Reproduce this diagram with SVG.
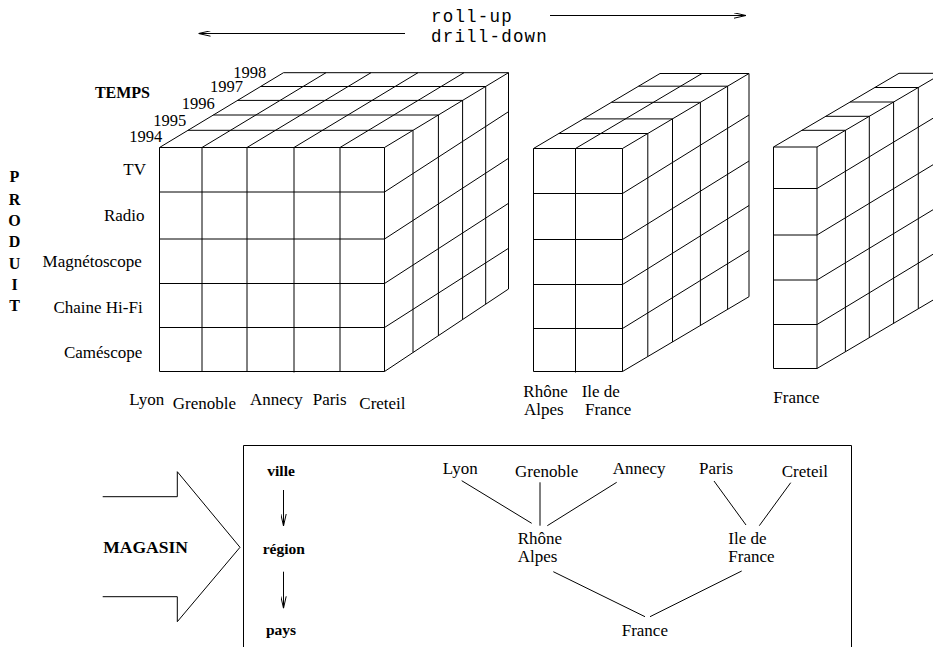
<svg xmlns="http://www.w3.org/2000/svg" width="933" height="647" viewBox="0 0 933 647">
<defs>
<style>
.l{stroke:#000;stroke-width:1;fill:none}
.t{font-family:"Liberation Serif","Times New Roman",serif;font-size:17px;fill:#000}
.b{font-weight:bold}
.m{font-family:"Liberation Mono","Courier New",monospace;font-size:17.5px;letter-spacing:1.2px;fill:#000}
</style>
<marker id="ah" markerUnits="userSpaceOnUse" viewBox="0 0 12 6" refX="12" refY="3" markerWidth="12" markerHeight="6" orient="auto">
<path d="M0,0.3 L12,3 L0,5.7" stroke="#000" stroke-width="1" fill="none"/>
</marker>
</defs>
<rect width="933" height="647" fill="#fff"/>

<g id="cube-ville">
<path class="l" d="M159.5,147.5V371.5 M202,147.5V371.5 M247,147.5V371.5 M294,147.5V372.5 M340,147.5V371.5 M384.5,147.5V371.5
M159.5,147.5H384.5 M159.5,192H384.5 M159.5,239H384.5 M159.5,283.5H384.5 M159.5,327.5H384.5 M159.5,371.5H384.5
M159.5,147.5L283.5,72.7 M202,147.5L326,72.7 M247,147.5L371,72.7 M294,147.5L418,72.7 M340,147.5L464,72.7 M384.5,147.5L508.5,72.7
M188,130.3H413 M213.4,115H438.4 M237.6,100.4H462.6 M260.7,86.5H485.7 M283.5,72.7H508.5
M413,130.3V352.5 M438.4,115V335.6 M462.6,100.4V319.5 M485.7,86.5V304.2 M508.5,72.7V289
M384.5,192L508.5,111.7 M384.5,239L508.5,158.3 M384.5,283.5L508.5,203.3 M384.5,327.5L508.5,248.3 M384.5,371.5L508.5,289"/>
<text class="t" x="129.3" y="405.3">Lyon</text>
<text class="t" x="172.7" y="408.5">Grenoble</text>
<text class="t" x="250" y="405.3">Annecy</text>
<text class="t" x="312.7" y="405.3">Paris</text>
<text class="t" x="359.3" y="408.5">Creteil</text>
</g>

<g id="axis-produit">
<g class="t" text-anchor="end">
<text x="146" y="175">TV</text>
<text x="144.5" y="220.5">Radio</text>
<text x="141.7" y="267">Magnétoscope</text>
<text x="142.7" y="313">Chaine Hi-Fi</text>
<text x="142.3" y="358">Caméscope</text>
</g>
<g class="t b" text-anchor="middle" style="font-size:16px">
<text x="14.5" y="182">P</text>
<text x="14.5" y="204.5">R</text>
<text x="14.5" y="226">O</text>
<text x="14.5" y="247">D</text>
<text x="14.5" y="268.5">U</text>
<text x="14.5" y="290">I</text>
<text x="14.5" y="311">T</text>
</g>
</g>

<g id="axis-temps">
<text class="t b" x="150" y="98" text-anchor="end" style="font-size:16px">TEMPS</text>
<g class="t" style="font-size:16.5px">
<text x="129.3" y="141.7">1994</text>
<text x="153.3" y="126">1995</text>
<text x="181.7" y="109.3">1996</text>
<text x="210" y="92.3">1997</text>
<text x="233.3" y="78.3">1998</text>
</g>
</g>

<g id="cube-region">
<path class="l" d="M533.5,148.5V371.5 M575.5,148.5V372.5 M622.5,148.5V371.5
M533.5,148.5H622.5 M533.5,193.5H622.5 M533.5,239.5H622.5 M533.5,284.5H622.5 M533.5,328.5H622.5 M533.5,371.5H622.5
M533.5,148.5L660,73.5 M575.5,148.5L702,73.5 M622.5,148.5L749,73.5
M558.8,133.5H647.8 M583.5,118.9H672.5 M611.4,102.3H700.4 M638.6,86.2H727.6 M660,73.5H749
M647.8,133.5V356.5 M672.5,118.9V342 M700.4,102.3V325.4 M727.6,86.2V309.3 M749,73.5V296.7
M622.5,193.5L749,115 M622.5,239.5L749,161 M622.5,284.5L749,205.5 M622.5,328.5L749,250.5 M622.5,371.5L749,296.7"/>
<text class="t" x="523.3" y="396.5">Rhône</text>
<text class="t" x="524" y="415">Alpes</text>
<text class="t" x="581.7" y="396.5">Ile de</text>
<text class="t" x="585" y="415">France</text>
</g>

<g id="cube-pays">
<path class="l" d="M773.5,147V368.5 M817,147V368.5
M773.5,147H817 M773.5,188.5H817 M773.5,235H817 M773.5,280H817 M773.5,324.5H817 M773.5,368.5H817
M773.5,147L899,73.3 M817,147L942.5,73.3
M801.9,130.3H845.4 M825.8,116.3H869.3 M850.1,102H893.6 M874.8,87.5H918.3 M899,73.3H942.5
M845.4,130.3V351.8 M869.3,116.3V337.6 M893.6,102V323.4 M918.3,87.5V308.8 M942.5,73.3V294.5
M817,188.5L942.5,112.5 M817,235L942.5,159 M817,280L942.5,204 M817,324.5L942.5,248.5 M817,368.5L942.5,294.5"/>
<text class="t" x="773.3" y="403">France</text>
</g>

<g id="roll-labels">
<text class="m" x="431" y="22">roll-up</text>
<text class="m" x="431" y="42">drill-down</text>
</g>

<g id="magasin-arrow">
<path class="l" d="M102.7,496.7H177.3V471.7L240,547.3L177.3,621.7V596.7H102.7"/>
<text class="t b" x="103.3" y="553" style="font-size:17.5px">MAGASIN</text>
</g>

<g id="hierarchy-box">
<path class="l" d="M243.5,648V445.5H851.5V648"/>
<g class="t b" style="font-size:15.5px">
<text id="lvl-ville" x="267.3" y="476">ville</text>
<text id="lvl-region" x="262.7" y="554">région</text>
<text id="lvl-pays" x="266" y="635">pays</text>
</g>
</g>

<g id="n-lyon"><text class="t" x="442.7" y="474.3">Lyon</text></g>
<g id="n-grenoble"><text class="t" x="515" y="476.5">Grenoble</text></g>
<g id="n-annecy"><text class="t" x="612.7" y="474.3">Annecy</text></g>
<g id="n-paris"><text class="t" x="699" y="474.3">Paris</text></g>
<g id="n-creteil"><text class="t" x="781.7" y="476.5">Creteil</text></g>
<g id="n-rhone-alpes"><text class="t" x="517.7" y="543.5">Rhône</text><text class="t" x="517.7" y="562">Alpes</text></g>
<g id="n-ile-de-france"><text class="t" x="728.3" y="543.5">Ile de</text><text class="t" x="728.3" y="562">France</text></g>
<g id="n-france"><text class="t" x="621.7" y="635.5">France</text></g>

<g id="connectors">
<path class="l" d="M405,33.5H198.5" marker-end="url(#ah)"/>
<path class="l" d="M550,15.5H746" marker-end="url(#ah)"/>
<path class="l" d="M283.5,490V526" marker-end="url(#ah)"/>
<path class="l" d="M283.5,571.7V608.3" marker-end="url(#ah)"/>
<path class="l" d="M461.7,480.7L531.7,523.3 M540,482.3V525.7 M616.7,482.3L547.3,525.7 M714,481L746,525 M790.7,482.7L759.3,525.7 M553.3,571.7L645,616.7 M741.7,571L650,616.7"/>
</g>
</svg>
